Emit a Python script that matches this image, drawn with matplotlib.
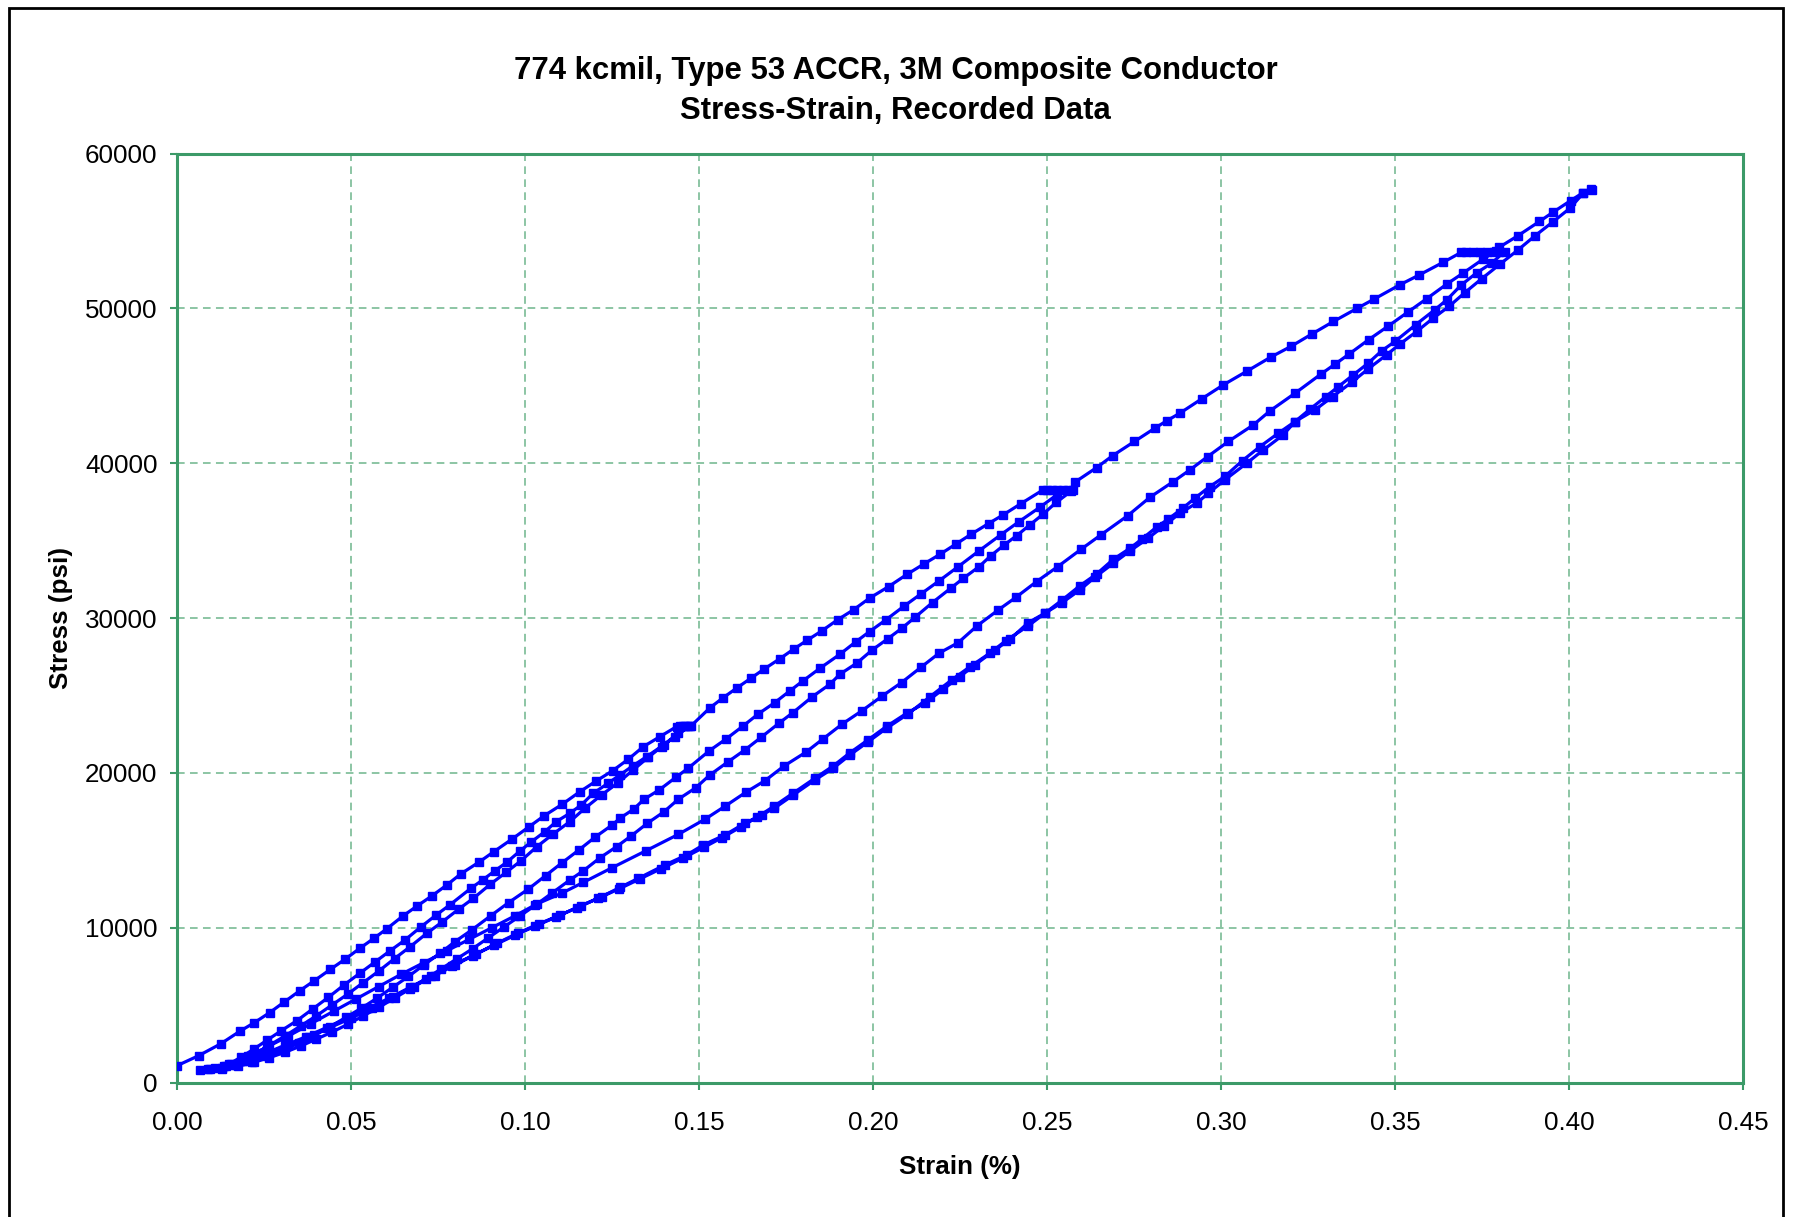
import matplotlib
matplotlib.use("Agg")
import matplotlib.pyplot as plt
from matplotlib.patches import Rectangle

# ---- data (strain in %, stress in psi) ----
# first loading, top line, up to the 30% hold
load1_strain = [0.0, 0.0062, 0.0125, 0.0182, 0.0222, 0.0266, 0.0307, 0.0353, 0.0395, 0.0441,
                0.0484, 0.0525, 0.0567, 0.0603, 0.0649, 0.0690, 0.0733, 0.0775, 0.0816, 0.0869,
                0.0910, 0.0964, 0.1011, 0.1056, 0.1107, 0.1157, 0.1203, 0.1252, 0.1297, 0.1340,
                0.1388, 0.1436]
load1_stress = [1085, 1730, 2490, 3330, 3860, 4510, 5180, 5930, 6580, 7310,
                7980, 8660, 9330, 9930, 10750, 11400, 12060, 12750, 13480, 14250,
                14900, 15740, 16510, 17240, 17970, 18770, 19450, 20140, 20880, 21690,
                22340, 22990]

holdA_strain = [0.1445, 0.1453, 0.1460, 0.1467, 0.1474]
holdA_stress = [23000, 23000, 23010, 23020, 23020]

unloadA_strain = [0.1431, 0.1393, 0.1354, 0.1311, 0.1268, 0.1220, 0.1172, 0.1129, 0.1081, 0.1034,
                  0.0988, 0.0946, 0.0900, 0.0852, 0.0809, 0.0761, 0.0718, 0.0670, 0.0625, 0.0580,
                  0.0535, 0.0490, 0.0445, 0.0400, 0.0355, 0.0310, 0.0265, 0.0225, 0.0190, 0.0165]
unloadA_stress = [22340, 21690, 21000, 20190, 19370, 18570, 17710, 16850, 16050, 15230,
                  14310, 13580, 12800, 11900, 11190, 10350, 9640, 8770, 8000, 7200,
                  6450, 5700, 5000, 4300, 3650, 3000, 2400, 1850, 1400, 1100]

reloadA_strain = [0.0150, 0.0185, 0.0220, 0.0260, 0.0300, 0.0345, 0.0390, 0.0435, 0.0480, 0.0525,
                  0.0570, 0.0612, 0.0655, 0.0702, 0.0745, 0.0784, 0.0845, 0.0878, 0.0914, 0.0948,
                  0.0986, 0.1017, 0.1057, 0.1090, 0.1129, 0.1162, 0.1196, 0.1239, 0.1273, 0.1311,
                  0.1350, 0.1398, 0.1441, 0.1478]
reloadA_stress = [1200, 1650, 2150, 2750, 3350, 4000, 4750, 5500, 6300, 7050,
                  7800, 8500, 9200, 10070, 10820, 11470, 12550, 13080, 13680, 14230,
                  14960, 15520, 16200, 16850, 17390, 17930, 18680, 19330, 19870, 20470,
                  21050, 21800, 22560, 23050]

# second loading, top line, up to the 50% hold
load2_strain = [0.1532, 0.1570, 0.1610, 0.1650, 0.1687, 0.1733, 0.1772, 0.1810, 0.1853, 0.1898,
                0.1944, 0.1990, 0.2045, 0.2097, 0.2147, 0.2193, 0.2238, 0.2282, 0.2332, 0.2374,
                0.2424, 0.2489]
load2_stress = [24210, 24860, 25500, 26120, 26700, 27380, 27990, 28550, 29170, 29880,
                30530, 31280, 32030, 32810, 33500, 34120, 34770, 35410, 36100, 36660,
                37370, 38280]

holdB_strain = [0.2500, 0.2515, 0.2530, 0.2545, 0.2560, 0.2575]
holdB_stress = [38250, 38250, 38250, 38260, 38260, 38270]

unloadB_strain = [0.2528, 0.2480, 0.2420, 0.2367, 0.2305, 0.2245, 0.2190, 0.2138, 0.2090, 0.2037,
                  0.1990, 0.1951, 0.1905, 0.1848, 0.1800, 0.1761, 0.1718, 0.1670, 0.1627, 0.1578,
                  0.1530, 0.1469, 0.1434, 0.1386, 0.1342, 0.1312, 0.1273, 0.1251, 0.1201, 0.1155,
                  0.1107, 0.1059, 0.1010, 0.0953, 0.0901, 0.0847, 0.0799, 0.0756, 0.0710, 0.0665,
                  0.0620, 0.0575, 0.0530, 0.0485, 0.0440, 0.0395, 0.0350, 0.0305, 0.0260, 0.0215,
                  0.0170, 0.0130]
unloadB_stress = [37950, 37160, 36230, 35370, 34340, 33320, 32400, 31560, 30780, 29880,
                  29120, 28470, 27660, 26760, 25960, 25290, 24540, 23800, 23030, 22190,
                  21430, 20300, 19720, 18900, 18290, 17650, 17070, 16640, 15840, 15020,
                  14200, 13360, 12500, 11620, 10760, 9850, 9100, 8350, 7600, 6850,
                  6150, 5450, 4800, 4200, 3600, 3050, 2550, 2100, 1700, 1350,
                  1100, 950]

reloadB_strain = [0.0130, 0.0175, 0.0220, 0.0265, 0.0310, 0.0355, 0.0400, 0.0445, 0.0490, 0.0535,
                  0.0580, 0.0625, 0.0670, 0.0715, 0.0760, 0.0805, 0.0850, 0.0895, 0.0940, 0.0985,
                  0.1030, 0.1077, 0.1129, 0.1168, 0.1216, 0.1263, 0.1306, 0.1352, 0.1398, 0.1441,
                  0.1491, 0.1531, 0.1584, 0.1632, 0.1679, 0.1730, 0.1770, 0.1826, 0.1876, 0.1905,
                  0.1953, 0.1998, 0.2042, 0.2083, 0.2121, 0.2171, 0.2224, 0.2260, 0.2305, 0.2338,
                  0.2377, 0.2413, 0.2451, 0.2489, 0.2526, 0.2570]
reloadB_stress = [900, 1050, 1300, 1600, 1950, 2350, 2800, 3250, 3750, 4300,
                  4850, 5450, 6050, 6700, 7350, 8000, 8650, 9350, 10050, 10750,
                  11450, 12220, 13080, 13680, 14520, 15230, 15940, 16750, 17460, 18300,
                  19040, 19860, 20720, 21480, 22300, 23210, 23890, 24920, 25720, 26370,
                  27080, 27940, 28650, 29340, 30050, 31000, 31930, 32570, 33320, 34010,
                  34720, 35320, 36020, 36710, 37460, 38200]

# third loading, top line, up to the 70% hold
load3_strain = [0.2580, 0.2643, 0.2689, 0.2751, 0.2810, 0.2845, 0.2882, 0.2945, 0.3007, 0.3076,
                0.3143, 0.3201, 0.3261, 0.3323, 0.3392, 0.3441, 0.3514, 0.3570, 0.3639, 0.3690]
load3_stress = [38770, 39720, 40490, 41400, 42260, 42750, 43230, 44160, 45060, 45960,
                46850, 47540, 48340, 49150, 50010, 50610, 51520, 52160, 52980, 53610]

holdC_strain = [0.3705, 0.3725, 0.3745, 0.3765, 0.3785, 0.3800, 0.3815]
holdC_stress = [53630, 53640, 53650, 53650, 53660, 53660, 53670]

unloadC_strain = [0.3778, 0.3735, 0.3690, 0.3649, 0.3614, 0.3560, 0.3500, 0.3462, 0.3423, 0.3380,
                  0.3335, 0.3301, 0.3256, 0.3213, 0.3165, 0.3112, 0.3062, 0.3011, 0.2968, 0.2925,
                  0.2890, 0.2849, 0.2815, 0.2772, 0.2739, 0.2691, 0.2643, 0.2595, 0.2544, 0.2494,
                  0.2446, 0.2394, 0.2351, 0.2293, 0.2250, 0.2202, 0.2149, 0.2097, 0.2039, 0.1987,
                  0.1934, 0.1886, 0.1833, 0.1771, 0.1716, 0.1668, 0.1620, 0.1565, 0.1515, 0.1455,
                  0.1390, 0.1330, 0.1270, 0.1210, 0.1150, 0.1090, 0.1030, 0.0970, 0.0910, 0.0850,
                  0.0790, 0.0730, 0.0670, 0.0610, 0.0550, 0.0490, 0.0430, 0.0370, 0.0310, 0.0250,
                  0.0190, 0.0135, 0.0095]
unloadC_stress = [52920, 52300, 51500, 50550, 49900, 48950, 47860, 47260, 46460, 45700,
                  44900, 44300, 43490, 42690, 41940, 41070, 40170, 39140, 38490, 37740,
                  37090, 36400, 35870, 35090, 34510, 33800, 32850, 32090, 31170, 30310,
                  29700, 28630, 27940, 26970, 26220, 25400, 24500, 23850, 23000, 22150,
                  21300, 20450, 19650, 18700, 17850, 17150, 16500, 15800, 15200, 14500,
                  13800, 13150, 12500, 11900, 11300, 10700, 10100, 9500, 8850, 8200,
                  7550, 6850, 6150, 5450, 4800, 4150, 3550, 2950, 2400, 1850,
                  1400, 1050, 900]

reloadC_strain = [0.0110, 0.0155, 0.0205, 0.0260, 0.0320, 0.0385, 0.0450, 0.0515, 0.0580, 0.0645,
                  0.0710, 0.0775, 0.0840, 0.0905, 0.0970, 0.1034, 0.1105, 0.1168, 0.1251, 0.1347,
                  0.1441, 0.1517, 0.1576, 0.1635, 0.1690, 0.1745, 0.1807, 0.1855, 0.1912, 0.1969,
                  0.2027, 0.2082, 0.2138, 0.2190, 0.2245, 0.2300, 0.2360, 0.2411, 0.2470, 0.2531,
                  0.2598, 0.2655, 0.2732, 0.2796, 0.2863, 0.2911, 0.2962, 0.3021, 0.3093, 0.3141,
                  0.3213, 0.3287, 0.3328, 0.3369, 0.3424, 0.3479, 0.3537, 0.3591, 0.3649, 0.3696,
                  0.3754, 0.3790]
reloadC_stress = [950, 1200, 1700, 2300, 3000, 3800, 4600, 5400, 6200, 7000,
                  7750, 8500, 9250, 10000, 10750, 11530, 12220, 12930, 13880, 14960,
                  16030, 17000, 17860, 18750, 19500, 20450, 21330, 22170, 23160, 24020,
                  24970, 25830, 26820, 27730, 28410, 29510, 30520, 31340, 32350, 33320,
                  34440, 35370, 36610, 37800, 38810, 39570, 40430, 41400, 42470, 43380,
                  44520, 45750, 46400, 47060, 47970, 48830, 49760, 50620, 51570, 52280,
                  53190, 53700]

# last loading to the peak
load4_strain = [0.3800, 0.3854, 0.3915, 0.3955, 0.4005, 0.4041, 0.4062]
load4_stress = [53950, 54700, 55610, 56220, 56960, 57480, 57700]

# final unloading
unload4_strain = [0.4065, 0.4041, 0.4003, 0.3953, 0.3902, 0.3854, 0.3802, 0.3749, 0.3701, 0.3655,
                  0.3610, 0.3562, 0.3514, 0.3476, 0.3423, 0.3376, 0.3321, 0.3270, 0.3213, 0.3179,
                  0.3122, 0.3074, 0.3011, 0.2964, 0.2930, 0.2882, 0.2836, 0.2791, 0.2739, 0.2691,
                  0.2638, 0.2595, 0.2544, 0.2494, 0.2446, 0.2382, 0.2336, 0.2279, 0.2226, 0.2164,
                  0.2101, 0.2039, 0.1987, 0.1934, 0.1886, 0.1833, 0.1771, 0.1716, 0.1680, 0.1632,
                  0.1575, 0.1512, 0.1465, 0.1402, 0.1326, 0.1273, 0.1220, 0.1160, 0.1100, 0.1040,
                  0.0980, 0.0920, 0.0860, 0.0800, 0.0740, 0.0680, 0.0620, 0.0560, 0.0500, 0.0440,
                  0.0380, 0.0320, 0.0260, 0.0200, 0.0140, 0.0090, 0.0065]
unload4_stress = [57650, 57440, 56470, 55570, 54680, 53780, 52860, 51910, 51020, 50120,
                  49370, 48500, 47690, 47000, 46090, 45230, 44300, 43440, 42690, 41830,
                  40860, 40000, 38920, 38060, 37420, 36770, 35950, 35160, 34340, 33540,
                  32640, 31820, 31000, 30310, 29490, 28540, 27730, 26860, 26000, 24920,
                  23810, 22880, 22020, 21160, 20300, 19540, 18570, 17710, 17280, 16750,
                  15990, 15340, 14700, 14050, 13190, 12600, 12000, 11400, 10800, 10250,
                  9650, 9000, 8300, 7600, 6900, 6200, 5500, 4800, 4150, 3550,
                  2950, 2400, 1900, 1450, 1050, 850, 800]

strain = (load1_strain + holdA_strain + unloadA_strain + reloadA_strain + load2_strain
          + holdB_strain + unloadB_strain + reloadB_strain + load3_strain + holdC_strain
          + unloadC_strain + reloadC_strain + load4_strain + unload4_strain)
stress = (load1_stress + holdA_stress + unloadA_stress + reloadA_stress + load2_stress
          + holdB_stress + unloadB_stress + reloadB_stress + load3_stress + holdC_stress
          + unloadC_stress + reloadC_stress + load4_stress + unload4_stress)

x_ticks = [0.0, 0.05, 0.10, 0.15, 0.20, 0.25, 0.30, 0.35, 0.40, 0.45]
y_ticks = [0, 10000, 20000, 30000, 40000, 50000, 60000]

green = '#3c9a68'
grid_green = '#6db58c'
font = 'Liberation Sans'

fig = plt.figure(figsize=(17.94, 12.17), dpi=100)
fig.patches.append(Rectangle((9 / 1794, -0.05), 1774 / 1794, 1.05 - 8 / 1217,
                             transform=fig.transFigure, fill=False, ec='black', lw=2))

ax = fig.add_axes([177 / 1794, 134.5 / 1217, 1566 / 1794, 929 / 1217])
ax.plot(strain, stress, color='#0000ff', lw=2.3, marker='s', ms=6,
        mfc='#0000ff', mec='#0000ff', zorder=3)

ax.set_xlim(0, 0.45)
ax.set_ylim(0, 60000)
ax.set_xticks(x_ticks)
ax.set_xticklabels(['%.2f' % v for v in x_ticks], fontsize=18.7, family=font)
ax.set_yticks(y_ticks)
ax.set_yticklabels([str(v) for v in y_ticks], fontsize=18.7, family=font)
ax.tick_params(direction='out', length=5, width=1.5, color=green)
ax.tick_params(axis='x', pad=15.5)
ax.tick_params(axis='y', pad=9)
ax.grid(True, color=grid_green, ls=(0, (5, 3.5)), lw=1.1)
for s in ax.spines.values():
    s.set_color(green)
    s.set_linewidth(2.2)

fig.text(0.4993, 1 - 71 / 1217, '774 kcmil, Type 53 ACCR, 3M Composite Conductor',
         ha='center', va='center', fontsize=22.4, weight='bold', family=font)
fig.text(0.4993, 1 - 111 / 1217, 'Stress-Strain, Recorded Data',
         ha='center', va='center', fontsize=22.4, weight='bold', family=font)
fig.text(960 / 1794, 1 - 1167 / 1217, 'Strain (%)', ha='center', va='center',
         fontsize=18.7, weight='bold', family=font)
fig.text(60.5 / 1794, 1 - 618 / 1217, 'Stress (psi)', ha='center', va='center',
         rotation=90, fontsize=18.7, weight='bold', family=font)

fig.savefig('out.png', dpi=100)
